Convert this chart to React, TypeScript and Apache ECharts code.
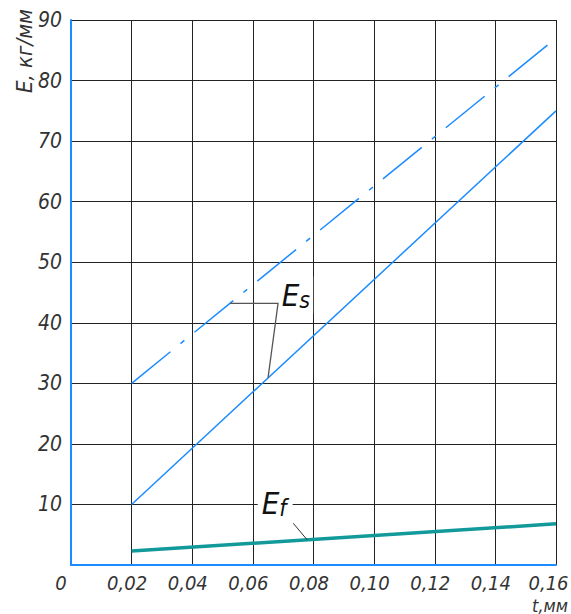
import React, { useEffect, useRef } from "react";
import * as echarts from "echarts";

const xTicks = { min: 0, max: 0.16, interval: 0.02 };
const yTicks = { min: 0, max: 90, interval: 10 };

// E_s (dash-dot, upper)
const esUpperT = [0.02, 0.16];
const esUpperE = [30, 87];
// E_s (solid, lower)
const esLowerT = [0.02, 0.16];
const esLowerE = [10, 75];
// E_f
const efT = [0.02, 0.16];
const efE = [2.3, 6.8];

// annotation anchor points (data coords)
const esLeader = [[0.0525, 43.2], [0.0683, 43.2], [0.065, 30.9]];
const esLabelAt = [0.0692, 44.6];
const efLeader = [[0.0733, 6.9], [0.0779, 4.16]];
const efLabelAt = [0.0616, 10.2];

const FONT = "'Liberation Sans Narrow', 'DejaVu Sans Condensed', 'Liberation Sans', sans-serif";
const BLUE = "#1a8cff";
const TEAL = "#12999a";

export default function App() {
  const ref = useRef<HTMLDivElement>(null);
  useEffect(() => {
    if (!ref.current) return;
    const chart = echarts.init(ref.current, null, { renderer: "svg" });
    const zip = (a: number[], b: number[]) => a.map((v, i) => [v, b[i]]);
    const lab = { fontSize: 20, fontStyle: "italic", fontFamily: FONT, color: "#333" };
    chart.setOption({
      animation: false,
      backgroundColor: "#fff",
      grid: { left: 71, top: 20, width: 485, height: 545, containLabel: false, outerBoundsMode: "none" },
      xAxis: {
        type: "value",
        min: xTicks.min,
        max: xTicks.max,
        interval: xTicks.interval,
        axisLine: { show: true, onZero: false, lineStyle: { color: BLUE, width: 2 } },
        axisTick: { show: false },
        splitLine: { show: true, lineStyle: { color: "#222", width: 1 } },
        axisLabel: {
          margin: 8,
          ...lab,
          showMaxLabel: true,
          showMinLabel: true,
          formatter: (v: number) => {
            if (v === 0) return "{z|0}";
            const s = v.toFixed(2).replace(".", ",");
            return Math.abs(v - xTicks.max) < 1e-9 ? `{b|${s}}` : `{a|${s}}`;
          },
          rich: {
            z: { ...lab, padding: [0, 20, 0, 0] },
            a: { ...lab, padding: [0, 9, 0, 0] },
            b: { ...lab, padding: [0, 15, 0, 0] },
          },
        },
      },
      yAxis: {
        type: "value",
        min: yTicks.min,
        max: yTicks.max,
        interval: yTicks.interval,
        axisLine: { show: true, onZero: false, lineStyle: { color: BLUE, width: 2 } },
        axisTick: { show: false },
        splitLine: { show: true, lineStyle: { color: "#222", width: 1 } },
        axisLabel: {
          margin: 9,
          color: "#333",
          fontSize: 21,
          fontStyle: "italic",
          fontFamily: FONT,
          formatter: (v: number) => (v === 0 ? "" : String(v)),
        },
      },
      series: [
        {
          type: "line",
          data: zip(esUpperT, esUpperE),
          symbol: "none",
          lineStyle: { color: BLUE, width: 1.5, type: [50, 13, 5, 13] },
          z: 3,
        },
        {
          type: "line",
          data: zip(esLowerT, esLowerE),
          symbol: "none",
          lineStyle: { color: BLUE, width: 1.5 },
          z: 3,
        },
        {
          type: "line",
          data: zip(efT, efE),
          symbol: "none",
          lineStyle: { color: TEAL, width: 3.5 },
          z: 3,
        },
      ],
    });

    const px = (p: number[]) => chart.convertToPixel({ gridIndex: 0 }, p) as number[];
    const esPts = esLeader.map(px);
    const efPts = efLeader.map(px);
    const esL = px(esLabelAt);
    const efL = px(efLabelAt);

    chart.setOption({
      graphic: [
        {
          type: "text",
          x: 24,
          y: 9,
          rotation: Math.PI / 2,
          style: {
            text: "E, кг/мм",
            align: "right",
            verticalAlign: "middle",
            fontSize: 22,
            fontStyle: "italic",
            fontFamily: FONT,
            fill: "#333",
          },
        },
        {
          type: "text",
          x: 568,
          y: 605,
          style: {
            text: "t,мм",
            align: "right",
            verticalAlign: "middle",
            fontSize: 18,
            fontStyle: "italic",
            fontFamily: FONT,
            fill: "#333",
          },
        },
        {
          type: "polyline",
          z: 20,
          shape: { points: esPts },
          style: { stroke: "#555", lineWidth: 1.3, fill: null },
        },
        {
          type: "polyline",
          z: 20,
          shape: { points: efPts },
          style: { stroke: "#333", lineWidth: 1, fill: null },
        },
        {
          type: "text",
          z: 21,
          x: esL[0],
          y: esL[1],
          style: {
            text: "{e|E}{s|s}",
            verticalAlign: "middle",
            backgroundColor: "#fff",
            padding: [2, 3, 2, 1],
            rich: {
              e: { fontSize: 31, fontStyle: "italic", fontFamily: FONT, fill: "#111", color: "#111" },
              s: { fontSize: 23, fontStyle: "italic", fontFamily: FONT, fill: "#111", color: "#111", verticalAlign: "bottom", padding: [10, 0, 0, 0] },
            },
          },
        },
        {
          type: "text",
          z: 21,
          x: efL[0],
          y: efL[1],
          style: {
            text: "{e|E}{f|f}",
            verticalAlign: "middle",
            backgroundColor: "#fff",
            padding: [2, 6, 2, 4],
            rich: {
              e: { fontSize: 31, fontStyle: "italic", fontFamily: FONT, fill: "#111", color: "#111" },
              f: { fontSize: 23, fontStyle: "italic", fontFamily: FONT, fill: "#111", color: "#111", verticalAlign: "bottom", padding: [10, 0, 0, 0] },
            },
          },
        },
      ],
    });

    return () => chart.dispose();
  }, []);
  return (
    <div
      ref={ref}
      style={{ position: "fixed", left: 0, top: 0, width: 571, height: 614, background: "#fff" }}
    />
  );
}
